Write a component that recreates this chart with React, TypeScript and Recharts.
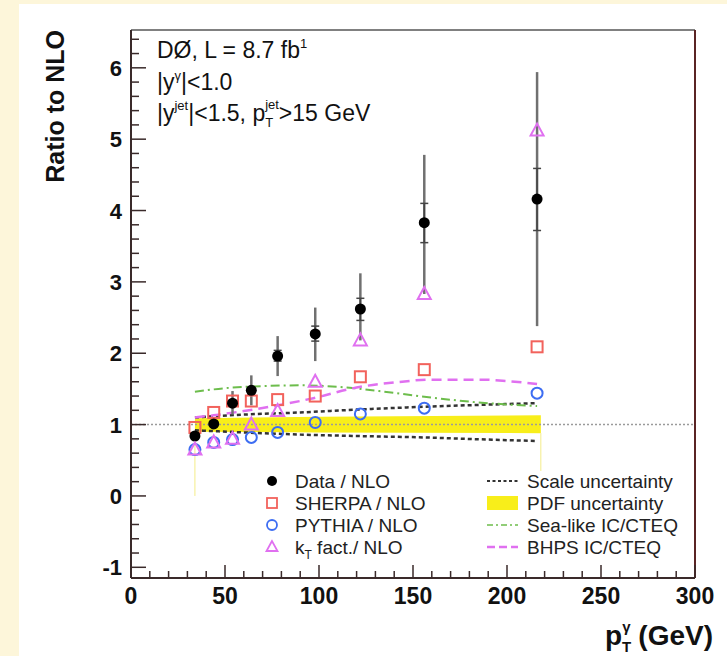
import React from 'react';
import { ComposedChart, XAxis, YAxis, Scatter, Line, Area, ErrorBar, ReferenceLine } from 'recharts';

// ---- data ----
const ptBins = [34, 44, 54, 64, 78, 98, 122, 156, 216];
const dataRatio = [0.84, 1.01, 1.30, 1.48, 1.96, 2.27, 2.62, 3.83, 4.16];
const dataTotLow = [0.77, 0.94, 1.14, 1.27, 1.68, 1.89, 2.18, 2.83, 2.38];
const dataTotHigh = [0.91, 1.08, 1.47, 1.69, 2.24, 2.64, 3.12, 4.78, 5.94];
const dataStatLow = [0.82, 0.99, 1.27, 1.44, 1.89, 2.17, 2.46, 3.55, 3.72];
const dataStatHigh = [0.86, 1.03, 1.33, 1.52, 2.04, 2.38, 2.77, 4.10, 4.59];
const sherpa = [0.96, 1.17, 1.33, 1.33, 1.35, 1.40, 1.67, 1.77, 2.09];
const pythia = [0.65, 0.75, 0.79, 0.82, 0.89, 1.03, 1.15, 1.23, 1.44];
const ktFact = [0.65, 0.75, 0.80, 1.00, 1.19, 1.60, 2.18, 2.83, 5.12];

const scaleX = [34, 60, 90, 120, 156, 190, 216];
const scaleUp = [1.10, 1.14, 1.17, 1.21, 1.25, 1.28, 1.30];
const scaleDown = [0.92, 0.89, 0.86, 0.84, 0.82, 0.79, 0.77];

const pdfX = [34, 100, 218];
const pdfLow = [0.90, 0.89, 0.88];
const pdfHigh = [1.09, 1.11, 1.13];
const pdfEdgeX = [34, 218];
const pdfEdgeBottom = [0.0, 0.35];

const seaX = [34, 50, 70, 90, 110, 132, 156, 185, 216];
const seaLike = [1.46, 1.51, 1.54, 1.55, 1.53, 1.47, 1.39, 1.31, 1.26];

const bhpsX = [34, 44, 60, 78, 97, 120, 140, 160, 186, 200, 216];
const bhps = [1.10, 1.13, 1.19, 1.27, 1.37, 1.52, 1.59, 1.63, 1.63, 1.61, 1.57];

const xTicks = [0, 10, 20, 30, 40, 50, 60, 70, 80, 90, 100, 110, 120, 130, 140, 150, 160, 170, 180, 190, 200, 210, 220, 230, 240, 250, 260, 270, 280, 290, 300];
const yTicks = [-1, -0.8, -0.6, -0.4, -0.2, 0, 0.2, 0.4, 0.6, 0.8, 1, 1.2, 1.4, 1.6, 1.8, 2, 2.2, 2.4, 2.6, 2.8, 3, 3.2, 3.4, 3.6, 3.8, 4, 4.2, 4.4, 4.6, 4.8, 5, 5.2, 5.4, 5.6, 5.8, 6, 6.2, 6.4];
const xDomain = [0, 300];
const yDomain = [-1.15, 6.53];

// ---- derived tables ----
const dataPts = ptBins.map((x, i) => ({
  x,
  y: dataRatio[i],
  tot: [dataRatio[i] - dataTotLow[i], dataTotHigh[i] - dataRatio[i]],
  stat: [dataRatio[i] - dataStatLow[i], dataStatHigh[i] - dataRatio[i]],
}));
const sherpaPts = ptBins.map((x, i) => ({ x, y: sherpa[i] }));
const pythiaPts = ptBins.map((x, i) => ({ x, y: pythia[i] }));
const ktPts = ptBins.map((x, i) => ({ x, y: ktFact[i] }));
const scaleUpPts = scaleX.map((x, i) => ({ x, y: scaleUp[i] }));
const scaleDownPts = scaleX.map((x, i) => ({ x, y: scaleDown[i] }));
const pdfPts = pdfX.map((x, i) => ({ x, y: [pdfLow[i], pdfHigh[i]] }));
const seaPts = seaX.map((x, i) => ({ x, y: seaLike[i] }));
const bhpsPts = bhpsX.map((x, i) => ({ x, y: bhps[i] }));

const FONT = '"Liberation Sans", Arial, Helvetica, sans-serif';
const RED = '#f2625c';
const BLUE = '#3d6df2';
const MAGENTA = '#e070f0';
const GREEN = '#6dbd4c';
const YELLOW = '#f8ee1a';
const AXIS = '#3a2a2a';

const YTick = (props: any) => {
  const { x, y, payload } = props;
  const v = payload.value;
  const major = Math.abs(v - Math.round(v)) < 1e-6;
  return (
    <g>
      <line x1={x} x2={x + (major ? 15 : 8)} y1={y} y2={y} stroke={AXIS} strokeWidth={1.5} />
      {major && (
        <text x={x - 9} y={y + 8} textAnchor="end" fontFamily={FONT} fontWeight="bold" fontSize={22} fill="#111">
          {Math.round(v)}
        </text>
      )}
    </g>
  );
};

const XTick = (props: any) => {
  const { x, y, payload } = props;
  const v = payload.value;
  const major = v % 50 === 0;
  return (
    <g>
      <line x1={x} x2={x} y1={y} y2={y - (major ? 13 : 7)} stroke={AXIS} strokeWidth={1.5} />
      {major && (
        <text x={x} y={y + 26} textAnchor="middle" fontFamily={FONT} fontWeight="bold" fontSize={23} fill="#111">
          {v}
        </text>
      )}
    </g>
  );
};

const DotShape = (p: any) => <circle cx={p.cx} cy={p.cy} r={5.5} fill="#000" />;
const SquareShape = (p: any) => (
  <rect x={p.cx - 5.5} y={p.cy - 5.5} width={11} height={11} fill="none" stroke={RED} strokeWidth={2} />
);
const CircleShape = (p: any) => <circle cx={p.cx} cy={p.cy} r={5.5} fill="none" stroke={BLUE} strokeWidth={2} />;
const TriShape = (p: any) => (
  <polygon
    points={`${p.cx},${p.cy - 7} ${p.cx - 6.5},${p.cy + 5} ${p.cx + 6.5},${p.cy + 5}`}
    fill="none"
    stroke={MAGENTA}
    strokeWidth={2}
  />
);

const leftLegend = [
  { label: 'Data / NLO', kind: 'dot' },
  { label: 'SHERPA / NLO', kind: 'square' },
  { label: 'PYTHIA / NLO', kind: 'circle' },
  { label: 'kT fact./ NLO', kind: 'tri' },
];
const rightLegend = [
  { label: 'Scale uncertainty', kind: 'scale' },
  { label: 'PDF uncertainty', kind: 'pdf' },
  { label: 'Sea-like IC/CTEQ', kind: 'sea' },
  { label: 'BHPS IC/CTEQ', kind: 'bhps' },
];
const legendRowsY = [481, 503, 525, 547];

export default function App() {
  const lx = 272;
  const rx0 = 487;
  const rx1 = 518;
  return (
    <div style={{ position: 'absolute', left: 0, top: 0, width: 727, height: 656, background: '#fdf6da', overflow: 'hidden' }}>
      <div style={{ position: 'absolute', left: 19, top: 4, width: 708, height: 652, background: '#ffffff' }} />
      <div style={{ position: 'absolute', left: 0, top: 0 }}>
        <ComposedChart width={727} height={656} margin={{ top: 30, right: 32, bottom: 38, left: 91 }}>
          <XAxis
            dataKey="x"
            type="number"
            domain={xDomain}
            ticks={xTicks}
            interval={0}
            height={40}
            tickSize={0}
            tickMargin={0}
            tick={<XTick />}
            axisLine={{ stroke: AXIS, strokeWidth: 2 }}
            allowDataOverflow
          />
          <YAxis
            dataKey="y"
            type="number"
            domain={yDomain}
            ticks={yTicks}
            interval={0}
            width={40}
            tickSize={0}
            tickMargin={0}
            tick={<YTick />}
            axisLine={{ stroke: AXIS, strokeWidth: 2 }}
            allowDataOverflow
          />
          <ReferenceLine y={yDomain[1]} stroke="#808080" strokeWidth={2} />
          <ReferenceLine x={xDomain[1]} stroke="#5a2424" strokeWidth={2} />
          <Area data={pdfPts} dataKey="y" type="linear" fill={YELLOW} fillOpacity={1} stroke="none" isAnimationActive={false} />
          <ReferenceLine segment={[{ x: pdfEdgeX[0], y: pdfEdgeBottom[0] }, { x: pdfEdgeX[0], y: pdfLow[0] }]} stroke="#f4ec88" strokeWidth={1} />
          <ReferenceLine segment={[{ x: pdfEdgeX[1], y: pdfEdgeBottom[1] }, { x: pdfEdgeX[1], y: pdfLow[2] }]} stroke="#f4ec88" strokeWidth={1} />
          <ReferenceLine y={1} stroke="#9a9a9a" strokeWidth={1.5} strokeDasharray="2 2" />
          <Line data={scaleUpPts} dataKey="y" type="monotone" stroke="#333" strokeWidth={2.5} strokeDasharray="4 3" dot={false} isAnimationActive={false} />
          <Line data={scaleDownPts} dataKey="y" type="monotone" stroke="#333" strokeWidth={2.5} strokeDasharray="4 3" dot={false} isAnimationActive={false} />
          <Line data={seaPts} dataKey="y" type="monotone" stroke={GREEN} strokeWidth={2} strokeDasharray="9 4 2 4" dot={false} isAnimationActive={false} />
          <Line data={bhpsPts} dataKey="y" type="monotone" stroke={MAGENTA} strokeWidth={2.5} strokeDasharray="10 6" dot={false} isAnimationActive={false} />
          <Scatter data={sherpaPts} shape={SquareShape} isAnimationActive={false} />
          <Scatter data={pythiaPts} shape={CircleShape} isAnimationActive={false} />
          <Scatter data={dataPts} shape={DotShape} isAnimationActive={false}>
            <ErrorBar dataKey="tot" direction="y" width={0} stroke="#707070" strokeWidth={2.5} />
            <ErrorBar dataKey="stat" direction="y" width={4} stroke="#444" strokeWidth={1.5} />
          </Scatter>
          <Scatter data={ktPts} shape={TriShape} isAnimationActive={false} />
        </ComposedChart>
      </div>
      <svg width={727} height={656} style={{ position: 'absolute', left: 0, top: 0, pointerEvents: 'none' }} fontFamily={FONT}>
        {/* y-axis title */}
        <text transform="translate(64,30) rotate(-90)" textAnchor="end" fontWeight="bold" fontSize={25} fill="#111">
          Ratio to NLO
        </text>
        {/* x-axis title */}
        <text x={713} y={645} textAnchor="end" fontWeight="bold" fontSize={28} fill="#111">
          p<tspan dy={7} fontSize={15}>T</tspan>
          <tspan dx={-9} dy={-20} fontSize={15}>γ</tspan>
          <tspan dy={13}> (GeV)</tspan>
        </text>
        {/* annotations */}
        <text x={157} y={58} fontSize={23} fill="#111">
          DØ, L = 8.7 fb<tspan dy={-10} fontSize={13}>1</tspan>
        </text>
        <text x={157} y={90} fontSize={23} fill="#111">
          |y<tspan dy={-10} fontSize={13}>γ</tspan>
          <tspan dy={10}>|&lt;1.0</tspan>
        </text>
        <text x={157} y={121} fontSize={23} fill="#111">
          |y<tspan dy={-11} fontSize={13}>jet</tspan>
          <tspan dy={11}>|&lt;1.5, p</tspan>
          <tspan dy={6} fontSize={13}>T</tspan>
          <tspan dx={-8} dy={-18} fontSize={13}>jet</tspan>
          <tspan dy={12}>&gt;15 GeV</tspan>
        </text>
        {/* legend left column */}
        {leftLegend.map((e, i) => {
          const y = legendRowsY[i];
          return (
            <g key={e.label}>
              {e.kind === 'dot' && <circle cx={lx} cy={y} r={5} fill="#000" />}
              {e.kind === 'square' && <rect x={lx - 5} y={y - 5} width={10} height={10} fill="none" stroke={RED} strokeWidth={1.8} />}
              {e.kind === 'circle' && <circle cx={lx} cy={y} r={5} fill="none" stroke={BLUE} strokeWidth={1.8} />}
              {e.kind === 'tri' && (
                <polygon points={`${lx},${y - 6} ${lx - 5.5},${y + 4} ${lx + 5.5},${y + 4}`} fill="none" stroke={MAGENTA} strokeWidth={1.8} />
              )}
              {e.kind === 'tri' ? (
                <text x={295} y={y + 7} fontSize={19} fill="#222">
                  k<tspan dy={5} fontSize={12}>T</tspan>
                  <tspan dy={-5}> fact./ NLO</tspan>
                </text>
              ) : (
                <text x={295} y={y + 7} fontSize={19} fill="#222">
                  {e.label}
                </text>
              )}
            </g>
          );
        })}
        {/* legend right column */}
        {rightLegend.map((e, i) => {
          const y = legendRowsY[i];
          return (
            <g key={e.label}>
              {e.kind === 'scale' && <line x1={rx0} x2={rx1} y1={y} y2={y} stroke="#333" strokeWidth={2} strokeDasharray="3 2.5" />}
              {e.kind === 'pdf' && <rect x={rx0} y={y - 7} width={rx1 - rx0} height={14} fill={YELLOW} />}
              {e.kind === 'sea' && <line x1={rx0} x2={rx1} y1={y} y2={y} stroke={GREEN} strokeWidth={1.5} strokeDasharray="6 3 2 3" />}
              {e.kind === 'bhps' && <line x1={rx0} x2={rx1} y1={y} y2={y} stroke={MAGENTA} strokeWidth={2.5} strokeDasharray="8 4" />}
              <text x={527} y={y + 7} fontSize={19} fill="#222">
                {e.label}
              </text>
            </g>
          );
        })}
      </svg>
    </div>
  );
}
